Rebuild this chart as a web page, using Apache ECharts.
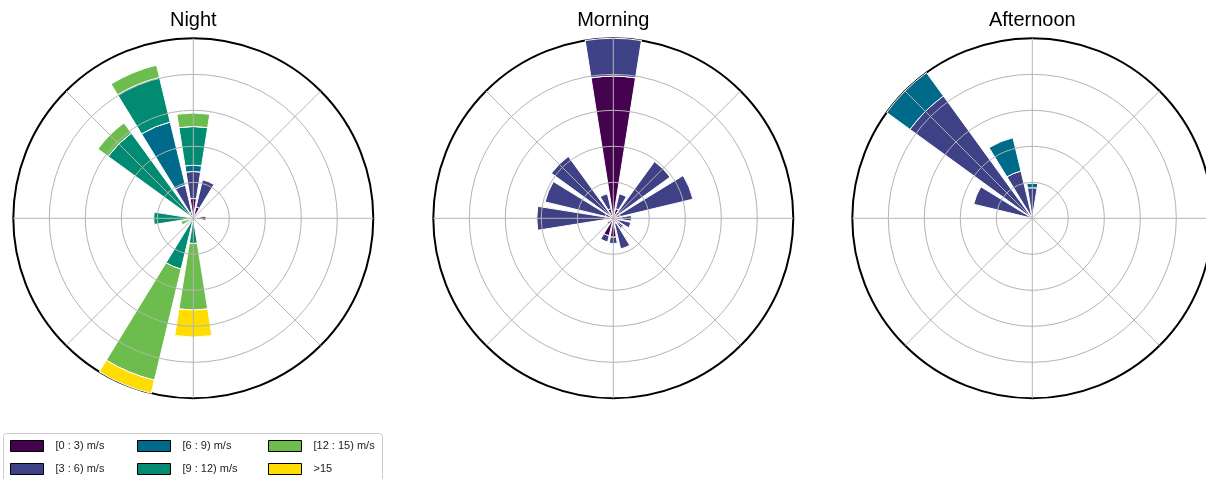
<!DOCTYPE html>
<html>
<head>
<meta charset="utf-8">
<title>Wind roses by time of day</title>
<script src="https://cdn.jsdelivr.net/npm/echarts@6/dist/echarts.min.js"></script>
<style>
  html, body { margin: 0; padding: 0; background: #fff; }
  #chart { width: 1206px; height: 479px; }
</style>
</head>
<body>
<div id="chart"></div>
<script>
// Compass sectors, clockwise from north
const directions = ['N', 'NNE', 'NE', 'ENE', 'E', 'ESE', 'SE', 'SSE',
                    'S', 'SSW', 'SW', 'WSW', 'W', 'WNW', 'NW', 'NNW'];

// Wind speed classes (stacked from the centre outwards)
const speedBins = ['[0 : 3) m/s', '[3 : 6) m/s', '[6 : 9) m/s',
                   '[9 : 12) m/s', '[12 : 15) m/s', '>15'];
const speedColors = ['#45024f', '#3f4186', '#006a8b', '#008b72', '#6cbd4e', '#ffdd00'];

const panelTitles = ['Night', 'Morning', 'Afternoon'];

// Frequency (%) per direction, one array per speed class
// Night
const night_0_3   = [2.2, 1.3, 0, 0, 1.4, 0, 0, 0, 0, 0, 0, 0, 0, 0, 0, 0.7];
const night_3_6   = [3.0, 3.1, 0, 0, 0, 0, 0, 0, 0, 0, 0, 0, 0, 0, 0, 3.1];
const night_6_9   = [0.7, 0, 0, 0, 0, 0, 0, 0, 0, 0, 0, 0, 0, 0, 0, 7.2];
const night_9_12  = [4.3, 0, 0, 0, 0, 0, 0, 0, 2.8, 5.8, 0, 0, 4.4, 0, 11.7, 5.1];
const night_12_15 = [1.5, 0, 0, 0, 0, 0, 0, 0, 7.4, 12.7, 0, 1.4, 0, 0, 1.4, 1.4];
const night_15    = [0, 0, 0, 0, 0, 0, 0, 0, 3.0, 1.5, 0, 0, 0, 0, 0, 0];

// Morning
const morning_0_3   = [15.8, 1.1, 0.9, 0.8, 0.9, 0.7, 0.8, 0.6, 2.1, 2.0, 0.8, 0, 0.9, 0.9, 0.9, 1.1];
const morning_3_6   = [4.2, 1.7, 6.9, 8.3, 1.1, 1.3, 0.6, 2.9, 0.7, 0.7, 0, 0, 7.6, 6.9, 7.6, 1.7];
const morning_6_9   = [0, 0, 0, 0, 0, 0, 0, 0, 0, 0, 0, 0, 0, 0, 0, 0];
const morning_9_12  = [0, 0, 0, 0, 0, 0, 0, 0, 0, 0, 0, 0, 0, 0, 0, 0];
const morning_12_15 = [0, 0, 0, 0, 0, 0, 0, 0, 0, 0, 0, 0, 0, 0, 0, 0];
const morning_15    = [0, 0, 0, 0, 0, 0, 0, 0, 0, 0, 0, 0, 0, 0, 0, 0];

// Afternoon
const afternoon_0_3   = [0, 0, 0, 0, 0, 0, 0, 0, 0, 0, 0, 0, 0, 0, 0, 0];
const afternoon_3_6   = [3.4, 0, 0, 0, 0, 0, 0, 0, 0, 0, 0, 0, 0, 6.7, 16.8, 5.4];
const afternoon_6_9   = [0.5, 0, 0, 0, 0, 0, 0, 0, 0, 0, 0, 0, 0, 0, 3.2, 3.8];
const afternoon_9_12  = [0, 0, 0, 0, 0, 0, 0, 0, 0, 0, 0, 0, 0, 0, 0, 0];
const afternoon_12_15 = [0, 0, 0, 0, 0, 0, 0, 0, 0, 0, 0, 0, 0, 0, 0, 0];
const afternoon_15    = [0, 0, 0, 0, 0, 0, 0, 0, 0, 0, 0, 0, 0, 0, 0, 0];

// Radial scale: rings every 4 %
const radialMax = 20;
const radialStep = 4;

const panels = [
  [night_0_3, night_3_6, night_6_9, night_9_12, night_12_15, night_15],
  [morning_0_3, morning_3_6, morning_6_9, morning_9_12, morning_12_15, morning_15],
  [afternoon_0_3, afternoon_3_6, afternoon_6_9, afternoon_9_12, afternoon_12_15, afternoon_15]
];

const FONT = '"Liberation Sans", Arial, Helvetica, sans-serif';
const centers = [[193.3, 218.3], [613.3, 218.3], [1032.3, 218.3]];
const outerRadius = 180;
const sector = 360 / directions.length;

const polar = [];
const angleAxis = [];
const radiusAxis = [];
const series = [];

// Polars 0-2: grid lines drawn above the bars; polars 3-5: the bars
centers.forEach(function (c) {
  polar.push({ center: c, radius: outerRadius });
});
centers.forEach(function (c) {
  polar.push({ center: c, radius: outerRadius });
});

const hidden = { show: false };
const ringColors = [];
for (let v = 0; v < radialMax; v += radialStep) ringColors.push('#b4b4b4');
ringColors.push('rgba(0,0,0,0)');

for (let p = 0; p < 3; p++) {
  angleAxis.push({
    polarIndex: p, type: 'value', min: 0, max: 360, interval: 45, startAngle: 90,
    axisLine: hidden, axisTick: hidden, axisLabel: hidden,
    splitLine: { show: true, lineStyle: { color: '#b4b4b4', width: 1 } },
    z: 5, silent: true
  });
  radiusAxis.push({
    polarIndex: p, type: 'value', min: 0, max: radialMax, interval: radialStep,
    axisLine: hidden, axisTick: hidden, axisLabel: hidden,
    splitLine: { show: true, lineStyle: { color: ringColors, width: 1 } },
    z: 5, silent: true
  });
}
for (let p = 0; p < 3; p++) {
  angleAxis.push({
    polarIndex: p + 3, type: 'category', data: directions,
    startAngle: 90 + sector / 2, boundaryGap: true,
    axisLine: { show: true, lineStyle: { color: '#000', width: 2 } },
    axisTick: hidden, axisLabel: hidden, splitLine: hidden,
    z: 0
  });
  radiusAxis.push({
    polarIndex: p + 3, type: 'value', min: 0, max: radialMax, interval: radialStep,
    axisLine: hidden, axisTick: hidden, axisLabel: hidden, splitLine: hidden
  });
  panels[p].forEach(function (values, b) {
    series.push({
      type: 'bar',
      coordinateSystem: 'polar',
      polarIndex: p + 3,
      name: speedBins[b],
      stack: 'panel' + p,
      barCategoryGap: '20%',
      data: values.map(function (v) { return v > 0 ? v : null; }),
      itemStyle: { color: speedColors[b], borderColor: '#ffffff', borderWidth: 1 },
      emphasis: { disabled: true },
      z: 2
    });
  });
}

const legendColumns = [10, 137, 268];
const legend = legendColumns.map(function (x, c) {
  return {
    orient: 'vertical',
    left: x,
    top: 440,
    itemWidth: 33,
    itemHeight: 11,
    itemGap: 11,
    icon: 'rect',
    padding: 0,
    data: speedBins.slice(c * 2, c * 2 + 2),
    itemStyle: { borderColor: '#000', borderWidth: 1 },
    textStyle: { fontFamily: FONT, fontSize: 11, color: '#222', lineHeight: 11, padding: [0, 0, 0, 7] }
  };
});

const title = panelTitles.map(function (t, i) {
  return {
    text: t,
    left: centers[i][0],
    top: 10,
    textAlign: 'center',
    padding: 0,
    textStyle: { fontFamily: FONT, fontSize: 20, fontWeight: 'normal', color: '#000' }
  };
});

const chart = echarts.init(document.getElementById('chart'), null, { renderer: 'canvas' });
chart.setOption({
  animation: false,
  backgroundColor: '#ffffff',
  title: title,
  legend: legend,
  graphic: [{
    type: 'rect',
    shape: { x: 3.5, y: 433.5, width: 379, height: 60, r: 3 },
    style: { fill: '#ffffff', stroke: '#cccccc', lineWidth: 1 },
    z: 0,
    silent: true
  }],
  polar: polar,
  angleAxis: angleAxis,
  radiusAxis: radiusAxis,
  series: series
});
</script>
</body>
</html>
